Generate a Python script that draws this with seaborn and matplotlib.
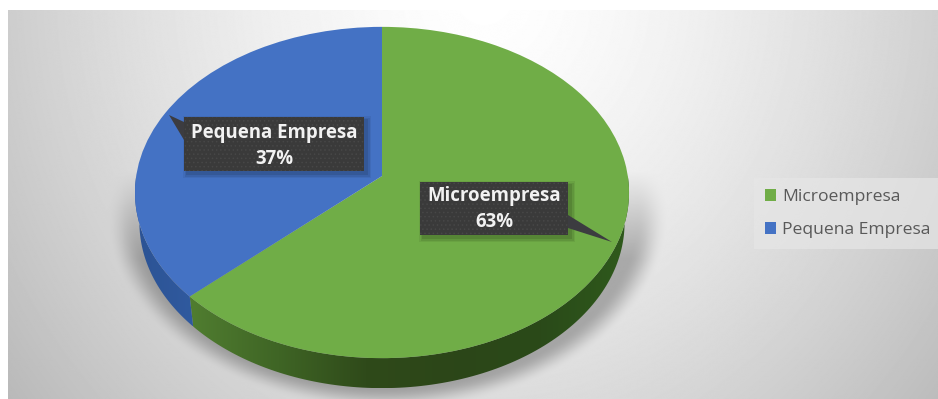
import numpy as np
import matplotlib
matplotlib.use("Agg")
import matplotlib.pyplot as plt
from matplotlib.patches import Polygon, Rectangle
from matplotlib.transforms import Transform
import seaborn as sns

categories = ["Microempresa", "Pequena Empresa"]
shares = [63, 37]
top_colors = ["#70AD47", "#4472C4"]

W, H = 938, 399
CX, CY = 382, 176          # projected pie centre, px
SX, SY = 245.8, 164.0      # horizontal and vertical scale, px
TILT = 0.0996              # perspective strength
DEPTH = 30                 # height of the pie wall, px


class TiltedDisc(Transform):
    """Projects the unit disc onto the page as a disc seen from above."""
    input_dims = output_dims = 2
    has_inverse = False

    def transform_non_affine(self, values):
        v = np.asarray(values, dtype=float)
        w = 1 + TILT * v[:, 1]
        return np.column_stack((CX + SX * v[:, 0] / w, CY - SY * v[:, 1] / w))


sns.set_theme(style="white", palette=sns.color_palette(top_colors))
plt.rcParams["font.family"] = ["Open Sans", "DejaVu Sans"]
plt.rcParams["hatch.linewidth"] = 0.6

fig = plt.figure(figsize=(W / 100, H / 100), dpi=100, facecolor="white")
ax = fig.add_axes([0, 0, 1, 1])

# Chart-area backdrop: radial grey gradient with a soft drop shadow under the pie
yy, xx = np.mgrid[0:H, 0:W]
dist = np.hypot((xx - 480) / 470, (yy + 20) / 525)
shade = np.clip(1.0 - 0.19 * dist ** 1.44, 0, 1)
ell = np.hypot((xx - CX) / 268, (yy - 208) / 190)
halo = np.clip((1.0 - ell) / 0.12 + 0.5, 0, 1)
halo = halo * halo * (3 - 2 * halo)
fade = np.clip((yy - 165) / 90, 0, 1)
shade = shade * (1 - 0.27 * halo * fade)
ax.imshow(shade, cmap="gray", vmin=0, vmax=1, extent=(8, W, H, 10),
          aspect="auto", zorder=0, interpolation="bilinear")


def wall_outline(start_deg, end_deg):
    t = np.radians(np.linspace(start_deg, end_deg, 120))
    rim = TiltedDisc().transform_non_affine(np.column_stack((np.cos(t), np.sin(t))))
    low = rim.copy()
    low[:, 0] = CX + (rim[:, 0] - CX) * 0.982
    low[:, 1] = rim[:, 1] + DEPTH
    return np.vstack((rim, low[::-1]))


def draw_wall(start_deg, end_deg, stops):
    """Side wall of one slice, shaded horizontally through the given colours."""
    outline = wall_outline(start_deg, end_deg)
    patch = Polygon(outline, closed=True, facecolor="none", edgecolor="none", zorder=2)
    ax.add_patch(patch)
    cmap = matplotlib.colors.LinearSegmentedColormap.from_list("wall", stops)
    x0, x1 = outline[:, 0].min(), outline[:, 0].max()
    y0, y1 = outline[:, 1].min(), outline[:, 1].max()
    im = ax.imshow(np.linspace(0, 1, 256)[None, :], cmap=cmap, extent=(x0, x1, y1, y0),
                   aspect="auto", zorder=2)
    im.set_clip_path(patch)


boundary = 90 - 360 * shares[0] / sum(shares) + 360
draw_wall(boundary, 360, ["#507d30", "#3f6525", "#2f4a1a", "#2c4618", "#2a4a19", "#2f5a1c"])
draw_wall(180, boundary, ["#2c5394", "#305a9f"])

wedges, _ = ax.pie(shares, colors=top_colors, startangle=90, counterclock=False,
                   radius=1, center=(0, 0), frame=True,
                   wedgeprops={"linewidth": 0, "zorder": 3})
for wedge in wedges:
    wedge.set_transform(TiltedDisc() + ax.transData)
    wedge.set_clip_on(False)

ax.set_aspect("auto")
ax.set_xlim(0, W)
ax.set_ylim(H, 0)
ax.axis("off")


def callout(box, tip, root, text, text_y):
    """Dark data label with a pointed tail running out to the slice edge."""
    x0, y0, x1, y1 = box
    for grow, alpha in ((4, 0.06), (2.5, 0.08), (1, 0.10)):
        ax.add_patch(Rectangle((x0 + 3 - grow, y0 + 3 - grow), x1 - x0 + 2 * grow,
                               y1 - y0 + 2 * grow, facecolor="black", alpha=alpha,
                               edgecolor="none", zorder=4))
    ax.add_patch(Polygon([root[0], tip, root[1]], closed=True, facecolor="#3c3c40",
                         edgecolor="none", zorder=5))
    ax.add_patch(Rectangle((x0, y0), x1 - x0, y1 - y0, facecolor="#3a3a3a",
                           edgecolor="#474747", hatch="....", linewidth=0, zorder=5))
    ax.text((x0 + x1) / 2, text_y, text, color="#f2f2f2", fontsize=13.4,
            fontweight="bold", ha="center", va="center", linespacing=1.38, zorder=6)


callout((184, 117, 364, 171), (169, 115), ((184, 122), (184, 140)),
        f"{categories[1]}\n{shares[1]}%", 146)
callout((420, 182, 568, 235), (612, 242), ((568, 215), (568, 228)),
        f"{categories[0]}\n{shares[0]}%", 209)

legend = ax.legend(wedges, categories, loc="center left",
                   bbox_to_anchor=(754 / W, 1 - 213.5 / H), bbox_transform=fig.transFigure,
                   frameon=True, facecolor="#e6e6e6", edgecolor="none", framealpha=0.7,
                   fancybox=False, fontsize=12.6, labelcolor="#595959",
                   handlelength=0.66, handleheight=0.66, handletextpad=0.36,
                   labelspacing=1.0, borderpad=0.6, borderaxespad=0)

fig.savefig("out.png", dpi=100, facecolor="white")
